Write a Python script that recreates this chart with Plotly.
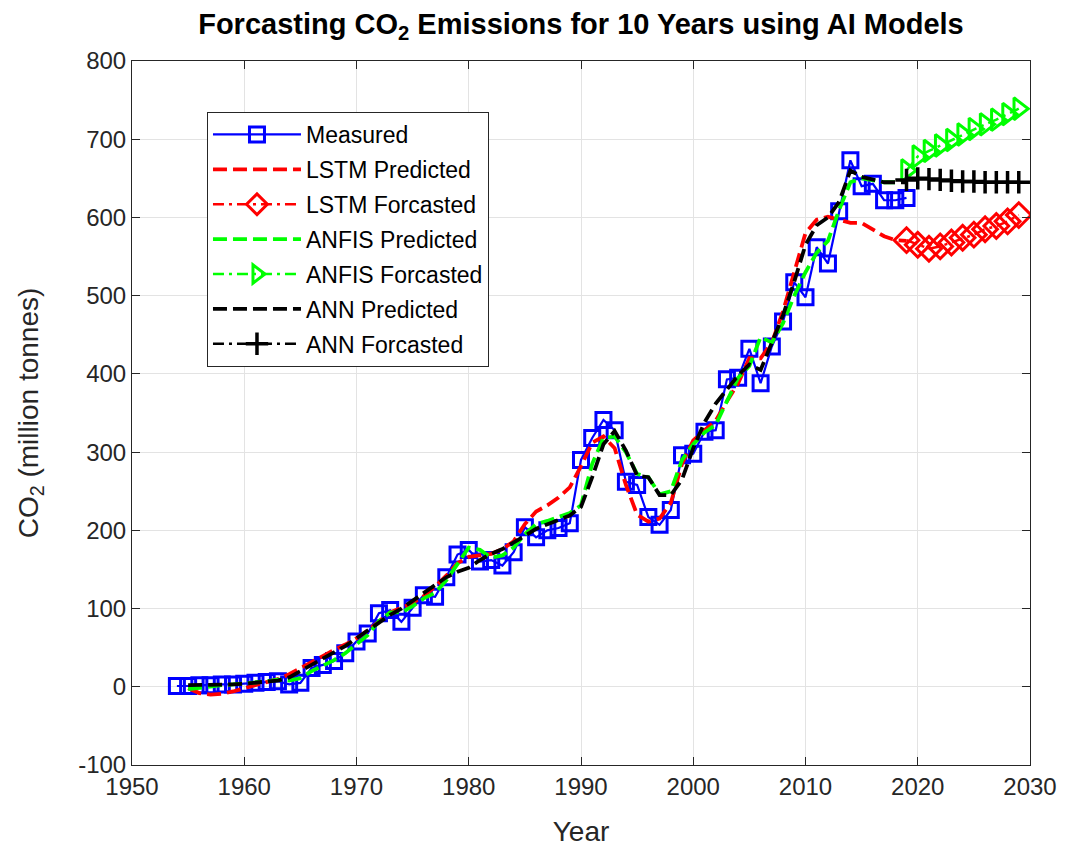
import plotly.graph_objects as go

# Measured annual emissions
measured_years = list(range(1954, 2020))
measured = [1, 1, 2, 2, 3, 3, 4, 5, 6, 7, 3, 5, 24, 28, 33, 43, 58, 68, 94, 98,
            83, 101, 117, 115, 140, 169, 175, 160, 162, 155, 172, 204, 191, 200, 203, 209,
            290, 318, 341, 328, 262, 258, 217, 207, 226, 296, 298, 326, 328, 393,
            395, 432, 388, 435, 467, 517, 498, 562, 541, 608, 673, 640, 643, 622, 622, 625]

# Model fits over the historical period
pred_years = list(range(1955, 2020))
lstm_pred = [-2, -8, -10, -9, -6, -2, 2, 5, 10, 16, 24, 31, 39, 47, 54, 62, 72, 84, 95, 101,
             107, 116, 128, 142, 158, 166, 168, 170, 176, 186, 208, 224, 232, 242, 255,
             282, 312, 320, 305, 258, 220, 211, 215, 235, 285, 315, 328, 340, 365, 388,
             420, 420, 440, 480, 530, 580, 597, 601, 597, 593, 593, 585, 576, 571, 570]
anfis_pred = [-3, -1, 1, 2, 3, 4, 5, 7, 9, 8, 11, 20, 27, 34, 43, 55, 66, 84, 95, 95,
              103, 113, 120, 136, 158, 178, 175, 165, 168, 178, 195, 208, 212, 217, 222,
              232, 285, 318, 320, 300, 272, 268, 246, 250, 290, 310, 325, 335, 365, 395,
              410, 447, 440, 465, 500, 530, 555, 570, 610, 645, 650, 648, 645, 645, 648]
ann_pred = [2, 2, 2, 3, 3, 4, 5, 6, 8, 12, 20, 28, 35, 43, 52, 62, 72, 82, 92, 100,
            110, 120, 130, 140, 147, 152, 162, 170, 176, 184, 193, 202, 208, 214, 219,
            230, 268, 310, 327, 302, 270, 268, 245, 245, 265, 305, 338, 362, 380, 398,
            412, 405, 440, 475, 518, 565, 590, 600, 620, 660, 652, 648, 645, 645, 645]

# Ten-year forecasts
fc_years = list(range(2019, 2030))
lstm_fc = [571, 565, 560, 563, 568, 574, 578, 585, 589, 595, 603]
anfis_fc = [660, 678, 685, 692, 699, 706, 713, 719, 725, 732, 739]
ann_fc = [648, 650, 649, 648, 647, 646, 646, 645, 645, 645, 645]

x_ticks = list(range(1950, 2031, 10))
y_ticks = list(range(-100, 801, 100))

FONT = "Liberation Sans, Arial, Helvetica, sans-serif"
TXT = "#262626"
DASH = "14px,6px"
DASHDOT = "11px,5px,3px,5px"

fig = go.Figure()

fig.add_trace(go.Scatter(
    x=measured_years, y=measured, name="Measured", mode="lines+markers",
    line=dict(color="#0000ff", width=2.2),
    marker=dict(symbol="square-open", size=15, color="#0000ff", line=dict(width=3)),
    legendgroup="a"))
fig.add_trace(go.Scatter(
    x=pred_years, y=lstm_pred, name="LSTM Predicted", mode="lines",
    line=dict(color="#ff0000", width=3.8, dash=DASH), legendgroup="b"))
fig.add_trace(go.Scatter(
    x=fc_years, y=lstm_fc, name="LSTM Forcasted", mode="lines+markers",
    line=dict(color="#ff0000", width=2.5, dash=DASHDOT),
    marker=dict(symbol="diamond-open", size=19, color="#ff0000", line=dict(width=3)),
    legendgroup="c"))
fig.add_trace(go.Scatter(
    x=pred_years, y=anfis_pred, name="ANFIS Predicted", mode="lines",
    line=dict(color="#00ff00", width=3.8, dash=DASH), legendgroup="d"))
fig.add_trace(go.Scatter(
    x=fc_years, y=anfis_fc, name="ANFIS Forcasted", mode="lines+markers",
    line=dict(color="#00ff00", width=2.5, dash=DASHDOT),
    marker=dict(symbol="triangle-right-open", size=19, color="#00ff00", line=dict(width=3)),
    legendgroup="e"))
fig.add_trace(go.Scatter(
    x=pred_years, y=ann_pred, name="ANN Predicted", mode="lines",
    line=dict(color="#000000", width=3.8, dash=DASH), legendgroup="f"))
fig.add_trace(go.Scatter(
    x=fc_years, y=ann_fc, name="ANN Forcasted", mode="lines+markers",
    line=dict(color="#000000", width=2.5, dash=DASHDOT),
    marker=dict(symbol="cross-thin-open", size=16, color="#000000",
                line=dict(width=3.5, color="#000000")),
    legendgroup="g"))

axis_common = dict(
    showline=True, linecolor="#262626", linewidth=1, mirror="ticks",
    ticks="inside", ticklen=8, tickcolor="#262626", tickwidth=1,
    showgrid=True, gridcolor="#e3e3e3", gridwidth=1, zeroline=False,
    tickfont=dict(family=FONT, size=24, color=TXT), automargin=False,
)

fig.update_layout(
    width=1065, height=848,
    margin=dict(l=132, r=35, t=61, b=83),
    paper_bgcolor="white", plot_bgcolor="white",
    title=dict(text="<b>Forcasting CO<sub>2</sub> Emissions for 10 Years using AI Models</b>",
               x=0.5455, xanchor="center", y=0.972, yanchor="middle",
               font=dict(family=FONT, size=29, color="#000000")),
    xaxis=dict(range=[1950, 2030], tickvals=x_ticks, ticktext=[str(v) for v in x_ticks],
               title=dict(text="Year", font=dict(family=FONT, size=28, color=TXT), standoff=22),
               **axis_common),
    yaxis=dict(range=[-100, 800], tickvals=y_ticks, ticktext=[str(v) for v in y_ticks],
               title=dict(text="CO<sub>2</sub> (million tonnes)",
                          font=dict(family=FONT, size=28, color=TXT), standoff=31),
               **axis_common),
    legend=dict(x=0.0835, y=0.9276, xanchor="left", yanchor="top",
                bgcolor="white", bordercolor="#262626", borderwidth=1,
                font=dict(family=FONT, size=23, color="#000000"),
                itemwidth=88, tracegroupgap=2, traceorder="grouped"),
    showlegend=True,
)

fig.write_html("out.html")
